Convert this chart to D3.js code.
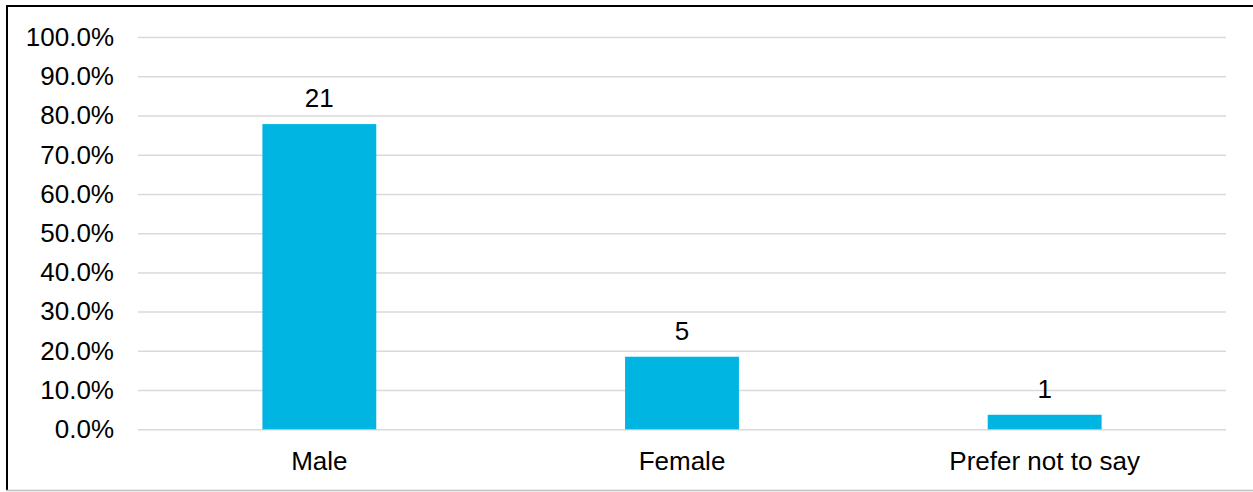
<!DOCTYPE html>
<html>
<head>
<meta charset="utf-8">
<script src="https://cdn.jsdelivr.net/npm/d3@7"></script>
<style>
  html, body { margin: 0; padding: 0; background: #fff; }
  svg { display: block; font-family: Arial, "Liberation Sans", sans-serif; }
</style>
</head>
<body>
<svg id="chart" width="1253" height="492"></svg>
<script>
// Survey responses by gender
const categories = ["Male", "Female", "Prefer not to say"];
const counts = [21, 5, 1];
const shares = [0.778, 0.185, 0.037];
const yTicks = [0, 0.1, 0.2, 0.3, 0.4, 0.5, 0.6, 0.7, 0.8, 0.9, 1.0];

const svg = d3.select("#chart");
const W = 1253, H = 492;
const plot = { left: 138, right: 1226, top: 37, bottom: 429.3 };

// Frame: dark top and left edges, light bottom edge
svg.append("rect").attr("x", 0).attr("y", 0).attr("width", W).attr("height", H).attr("fill", "#fff");
svg.append("line").attr("x1", 7).attr("x2", W).attr("y1", 6).attr("y2", 6)
  .attr("stroke", "#000").attr("stroke-width", 2);
svg.append("line").attr("x1", 7).attr("x2", 7).attr("y1", 5).attr("y2", 491)
  .attr("stroke", "#000").attr("stroke-width", 2);
svg.append("line").attr("x1", 6).attr("x2", W).attr("y1", 490.5).attr("y2", 490.5)
  .attr("stroke", "#bfbfbf").attr("stroke-width", 1.5);

const x = d3.scaleBand()
  .domain(categories)
  .range([plot.left, plot.right])
  .paddingInner(0.686)
  .paddingOuter(0.343);

const y = d3.scaleLinear()
  .domain([0, 1])
  .range([plot.bottom, plot.top]);

// Gridlines and percentage labels
const yAxis = d3.axisLeft(y)
  .tickValues(yTicks)
  .tickFormat(d3.format(".1%"))
  .tickSize(-(plot.right - plot.left))
  .tickPadding(24);

const gy = svg.append("g")
  .attr("transform", `translate(${plot.left},0)`)
  .call(yAxis);
gy.select(".domain").remove();
gy.selectAll(".tick line").attr("stroke", "#d9d9d9").attr("stroke-width", 1.5);
gy.selectAll(".tick text")
  .attr("font-size", 26)
  .attr("fill", "#000")
  .attr("font-family", "Arial, 'Liberation Sans', sans-serif");

// Category labels
const xAxis = d3.axisBottom(x).tickSize(0).tickPadding(22);
const gx = svg.append("g")
  .attr("transform", `translate(0,${plot.bottom})`)
  .call(xAxis);
gx.select(".domain").remove();
gx.selectAll(".tick text")
  .attr("font-size", 26)
  .attr("fill", "#000")
  .attr("font-family", "Arial, 'Liberation Sans', sans-serif");

// Bars
const rows = categories.map((c, i) => ({ category: c, count: counts[i], share: shares[i] }));

svg.append("g").selectAll("rect")
  .data(rows)
  .join("rect")
  .attr("x", d => x(d.category))
  .attr("y", d => y(d.share))
  .attr("width", x.bandwidth())
  .attr("height", d => y(0) - y(d.share))
  .attr("fill", "#00B5E2");

// Count labels above bars
svg.append("g").selectAll("text")
  .data(rows)
  .join("text")
  .attr("x", d => x(d.category) + x.bandwidth() / 2)
  .attr("y", d => y(d.share) - 17)
  .attr("text-anchor", "middle")
  .attr("font-size", 26)
  .attr("fill", "#000")
  .text(d => d.count);
</script>
</body>
</html>
